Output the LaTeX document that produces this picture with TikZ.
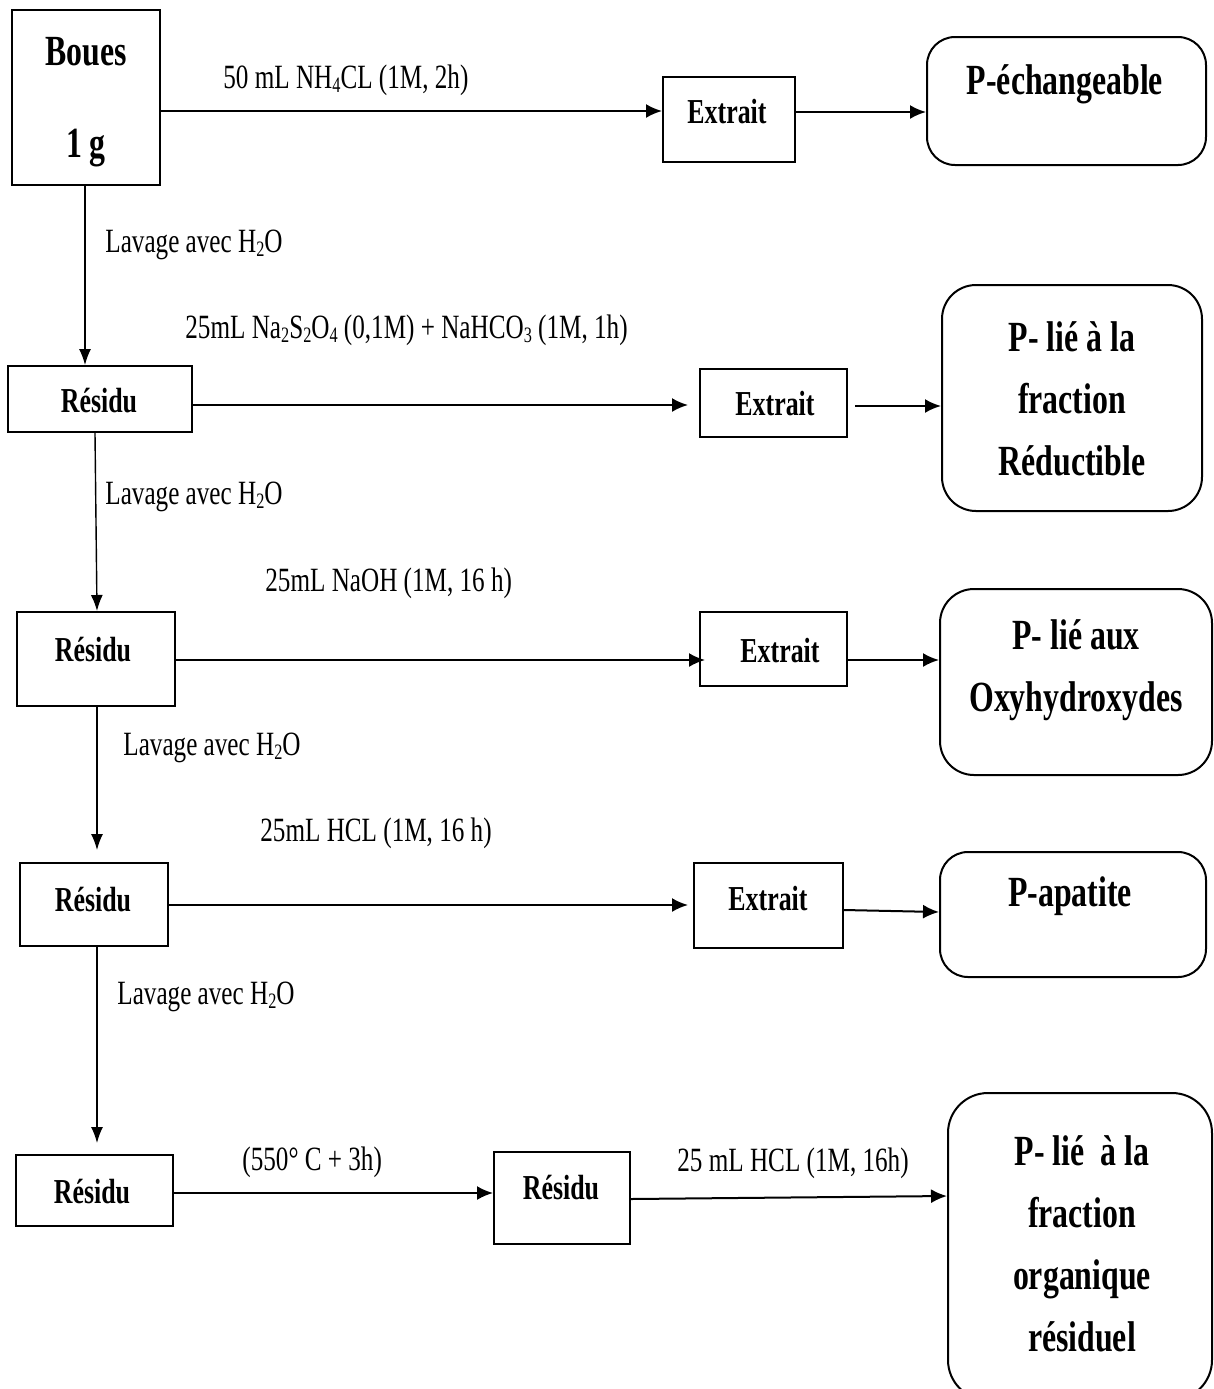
\documentclass[tikz,border=0pt]{standalone}
\usepackage{fontspec}
\setmainfont{Liberation Serif}[FakeStretch=0.74]
\usetikzlibrary{arrows.meta}
\newcommand\mysb[1]{\raisebox{-0.25ex}{\fontsize{11}{11}\selectfont #1}}
\tikzset{
 bx/.style={draw, line width=1pt, inner sep=0pt},
 rbx/.style={draw, line width=1pt, rounded corners=14pt, inner sep=0pt},
 lbl/.style={font=\fontsize{17}{20}\selectfont, anchor=west, inner sep=0pt},
 btx/.style={font=\bfseries\fontsize{17.5}{21}\selectfont, inner sep=0pt},
 big/.style={font=\bfseries\fontsize{21.5}{31}\selectfont, align=center, inner sep=0pt},
 arr/.style={-{Latex[length=8pt,width=7pt]}, line width=1pt},
 varr/.style={-{Latex[length=8pt,width=6pt]}, line width=0.7pt},
}
\begin{document}
\begin{tikzpicture}[x=0.5pt,y=-0.5pt]
\useasboundingbox (0,0) rectangle (1214,1389);
\clip (0,0) rectangle (1214,1389);
% boxes
\node[bx, minimum width=74pt, minimum height=87.5pt] (boues) at (86,97.5) {};
\node[bx, minimum width=66pt, minimum height=42.5pt] (ext1) at (729,119.5) {};
\node[rbx, minimum width=139.5pt, minimum height=64pt] (r1) at (1066.5,101) {};
\node[bx, minimum width=92pt, minimum height=33pt] (res1) at (100,399) {};
\node[bx, minimum width=73.5pt, minimum height=34pt] (ext2) at (773.5,403) {};
\node[rbx, rounded corners=17pt, minimum width=130pt, minimum height=113pt] (r2) at (1072,398) {};
\node[bx, minimum width=79pt, minimum height=47pt] (res2) at (96,659) {};
\node[bx, minimum width=73.5pt, minimum height=37pt] (ext3) at (773.5,649) {};
\node[rbx, rounded corners=17pt, minimum width=136pt, minimum height=93pt] (r3) at (1076,682) {};
\node[bx, minimum width=74pt, minimum height=41.5pt] (res3) at (94,904.5) {};
\node[bx, minimum width=74.5pt, minimum height=42.5pt] (ext4) at (768.5,905.5) {};
\node[rbx, minimum width=133pt, minimum height=62.5pt] (r4) at (1073,914.5) {};
\node[bx, minimum width=78.5pt, minimum height=35.5pt] (res4) at (94.5,1190.5) {};
\node[bx, minimum width=68pt, minimum height=46pt] (res5) at (562,1198) {};
\node[rbx, rounded corners=20pt, minimum width=132pt, minimum height=153.5pt] (r5) at (1080,1246.5) {};
% box texts
\node[big] (tboues) at (86,52) {Boues};
\node[big] (tg) at (86,148) {1 g};
\node[btx] (te1) at (727,112) {Extrait};
\node[btx] (te2) at (775,404) {Extrait};
\node[btx] (te3) at (780,651) {Extrait};
\node[btx] (te4) at (768,899) {Extrait};
\node[btx] (tr1) at (99,401) {Résidu};
\node[btx] (tr2) at (93,650) {Résidu};
\node[btx] (tr3) at (93,900) {Résidu};
\node[btx] (tr4) at (92,1192) {Résidu};
\node[btx] (tr5) at (561,1188) {Résidu};
\node[big] (tp1) at (1065,84) {P-échangeable};
\node[big] (tp2) at (1072,399) {P- lié à la\\fraction\\Réductible};
\node[big] (tp3) at (1076,670) {P- lié aux\\Oxyhydroxydes};
\node[big] (tp4) at (1070,896) {P-apatite};
\node[big] (tp5) at (1082,1244) {P- lié~ à la\\fraction\\organique\\résiduel};
% labels
\node[lbl] (l1) at (223,80) {50 mL NH\mysb{4}CL (1M, 2h)};
\node[lbl] (w1) at (105,245) {Lavage avec H\mysb{2}O};
\node[lbl] (l2) at (185,330) {25mL Na\mysb{2}S\mysb{2}O\mysb{4} (0,1M) + NaHCO\mysb{3} (1M, 1h)};
\node[lbl] (w2) at (105,497) {Lavage avec H\mysb{2}O};
\node[lbl] (l3) at (265,583) {25mL NaOH (1M, 16 h)};
\node[lbl] (w3) at (123,748) {Lavage avec H\mysb{2}O};
\node[lbl] (l4) at (260,833) {25mL HCL (1M, 16 h)};
\node[lbl] (w4) at (117,997) {Lavage avec H\mysb{2}O};
\node[lbl] (l5) at (242,1162) {(550° C + 3h)};
\node[lbl] (l6) at (677,1163) {25 mL HCL (1M, 16h)};
% connectors
\draw[arr] (boues.east |- 0,111) -- (ext1.west |- 0,111);
\draw[arr] (ext1.east |- 0,112) -- (r1.west |- 0,112);
\draw[varr] (85,0 |- boues.south) -- (85,0 |- res1.north);
\draw[arr] (res1.east |- 0,405) -- (688,405);
\draw[arr] (855,406) -- (r2.west |- 0,406);
\draw[varr] (95,0 |- res1.south) -- (97,0 |- res2.north);
\draw[arr] (res2.east |- 0,660) -- (705,660);
\draw[arr] (ext3.east |- 0,660) -- (r3.west |- 0,660);
\draw[varr] (97,0 |- res2.south) -- (97,850);
\draw[arr] (res3.east |- 0,905) -- (688,905);
\draw[arr] (ext4.east |- 0,910) -- (r4.west |- 0,912);
\draw[varr] (97,0 |- res3.south) -- (97,1143);
\draw[arr] (res4.east |- 0,1193) -- (res5.west |- 0,1193);
\draw[arr] (res5.east |- 0,1199) -- (r5.west |- 0,1196);
\end{tikzpicture}
\end{document}
